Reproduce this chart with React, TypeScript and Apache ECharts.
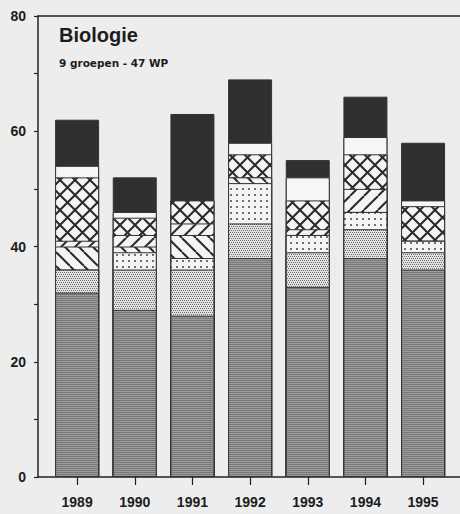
import React, { useEffect, useRef } from 'react';
import * as echarts from 'echarts';

const years = [1989, 1990, 1991, 1992, 1993, 1994, 1995];
const yLabelValues = [0, 20, 40, 60, 80];
const titleText = 'Biologie';
const subtitleText = '9 groepen - 47 WP';

// stacked layers, bottom to top
const grayLayer = [32, 29, 28, 38, 33, 38, 36];
const denseDotLayer = [4, 7, 8, 6, 6, 5, 3];
const sparseDotLayer = [0, 3, 2, 7, 3, 3, 2];
const backslashLayer = [4, 1, 4, 1, 0, 0, 0];
const slashLayer = [1, 2, 2, 0, 1, 4, 0];
const crossLayer = [11, 3, 4, 4, 5, 6, 6];
const whiteLayer = [2, 1, 0, 2, 4, 3, 1];
const darkLayer = [8, 6, 15, 11, 3, 7, 10];

function makePattern(w: number, h: number, draw: (ctx: CanvasRenderingContext2D) => void) {
  const c = document.createElement('canvas');
  c.width = w;
  c.height = h;
  const ctx = c.getContext('2d') as CanvasRenderingContext2D;
  draw(ctx);
  return { image: c.toDataURL(), repeat: 'repeat', imageWidth: w, imageHeight: h };
}

function buildPatterns() {
  const gray = makePattern(4, 2, (ctx) => {
    ctx.fillStyle = '#9c9c9c';
    ctx.fillRect(0, 0, 4, 2);
    ctx.fillStyle = '#787878';
    ctx.fillRect(0, 0, 4, 1);
  });
  const dense = makePattern(4, 4, (ctx) => {
    ctx.fillStyle = '#e2e2e2';
    ctx.fillRect(0, 0, 4, 4);
    ctx.fillStyle = '#6e6e6e';
    ctx.fillRect(0, 0, 1, 1);
    ctx.fillRect(2, 0, 1, 1);
    ctx.fillRect(1, 2, 1, 1);
    ctx.fillRect(3, 2, 1, 1);
  });
  const sparse = makePattern(6, 6, (ctx) => {
    ctx.fillStyle = '#f4f4f4';
    ctx.fillRect(0, 0, 6, 6);
    ctx.fillStyle = '#707070';
    ctx.fillRect(2, 2, 2, 2);
  });
  const diag = (dir: number, both: boolean, s: number) =>
    makePattern(s, s, (ctx) => {
      ctx.fillStyle = '#f4f4f4';
      ctx.fillRect(0, 0, s, s);
      ctx.strokeStyle = '#2a2a2a';
      ctx.lineWidth = 2;
      const drawDir = (d: number) => {
        for (const o of [-s, 0, s]) {
          ctx.beginPath();
          if (d > 0) {
            ctx.moveTo(o, 0);
            ctx.lineTo(o + s, s);
          } else {
            ctx.moveTo(o, s);
            ctx.lineTo(o + s, 0);
          }
          ctx.stroke();
        }
      };
      drawDir(dir);
      if (both) drawDir(-dir);
    });
  const dark = makePattern(4, 4, (ctx) => {
    ctx.fillStyle = '#2e2e2e';
    ctx.fillRect(0, 0, 4, 4);
    ctx.fillStyle = '#3a3a3a';
    ctx.fillRect(0, 0, 1, 1);
    ctx.fillRect(2, 2, 1, 1);
  });
  return {
    gray,
    dense,
    sparse,
    back: diag(1, false, 14),
    slash: diag(-1, false, 14),
    cross: diag(1, true, 15),
    white: '#f6f6f6',
    dark,
  };
}

const X_MIN = 1988.322;
const X_MAX = 1995.64;

export default function App() {
  const ref = useRef<HTMLDivElement>(null);

  useEffect(() => {
    if (!ref.current) return;
    const chart = echarts.init(ref.current, null, { renderer: 'svg' });
    const p = buildPatterns();
    const layers = [
      { name: 'Groep 1', data: grayLayer, color: p.gray },
      { name: 'Groep 2', data: denseDotLayer, color: p.dense },
      { name: 'Groep 3', data: sparseDotLayer, color: p.sparse },
      { name: 'Groep 4', data: backslashLayer, color: p.back },
      { name: 'Groep 5', data: slashLayer, color: p.slash },
      { name: 'Groep 6', data: crossLayer, color: p.cross },
      { name: 'Groep 7', data: whiteLayer, color: p.white },
      { name: 'Groep 8', data: darkLayer, color: p.dark },
    ];
    const series = layers
      .map((layer, k) => ({
        type: 'bar',
        name: layer.name,
        data: years.map((yr, i) => {
          let cum = 0;
          for (let j = 0; j <= k; j++) cum += layers[j].data[i];
          return [yr, cum];
        }),
        barWidth: 44,
        barGap: '-100%',
        z: 20 - k,
        itemStyle: { color: layer.color, borderColor: '#333', borderWidth: 1 },
        emphasis: { disabled: true },
      }))
      .reverse();

    const axisColor = '#222';
    const textStyle = { fontFamily: 'Liberation Sans, Arial, sans-serif', fontWeight: 'bold', color: '#1c1c1c' };

    chart.setOption({
      animation: false,
      backgroundColor: 'transparent',
      title: [
        {
          text: titleText,
          left: 59,
          top: 25,
          padding: 0,
          textStyle: { ...textStyle, fontSize: 20 },
        },
        {
          text: subtitleText,
          left: 59,
          top: 57,
          padding: 0,
          textStyle: { ...textStyle, fontFamily: 'DejaVu Sans', fontSize: 10.5 },
        },
      ],
      grid: { left: 38, top: 16, right: -2, bottom: 37, containLabel: false },
      xAxis: [
        {
          type: 'value',
          min: X_MIN,
          max: X_MAX,
          position: 'bottom',
          axisLine: { show: true, onZero: false, lineStyle: { color: axisColor, width: 1.5 } },
          axisTick: { show: true, customValues: years, length: 8, lineStyle: { color: axisColor, width: 1.2 } },
          axisLabel: {
            customValues: years,
            formatter: (v: number) => String(Math.round(v)),
            margin: 18,
            fontSize: 14,
            ...textStyle,
          },
          splitLine: { show: false },
        },
        {
          type: 'value',
          min: X_MIN,
          max: X_MAX,
          position: 'top',
          axisLine: { show: true, onZero: false, lineStyle: { color: axisColor, width: 1.5 } },
          axisTick: { show: false },
          axisLabel: { show: false },
          splitLine: { show: false },
        },
      ],
      yAxis: {
        type: 'value',
        min: 0,
        max: 80,
        interval: 10,
        axisLine: { show: true, onZero: false, lineStyle: { color: axisColor, width: 1.5 } },
        axisTick: { show: true, length: 4, lineStyle: { color: axisColor, width: 1.2 } },
        axisLabel: {
          margin: 12,
          fontSize: 14,
          ...textStyle,
          formatter: (v: number) => (yLabelValues.includes(v) ? String(v) : ''),
        },
        splitLine: { show: false },
      },
      series,
    });
    return () => chart.dispose();
  }, []);

  return (
    <div
      style={{
        position: 'fixed',
        left: 0,
        top: 0,
        width: 460,
        height: 514,
        background: '#ededed',
        overflow: 'hidden',
      }}
    >
      <div ref={ref} style={{ width: 460, height: 514 }} />
    </div>
  );
}
